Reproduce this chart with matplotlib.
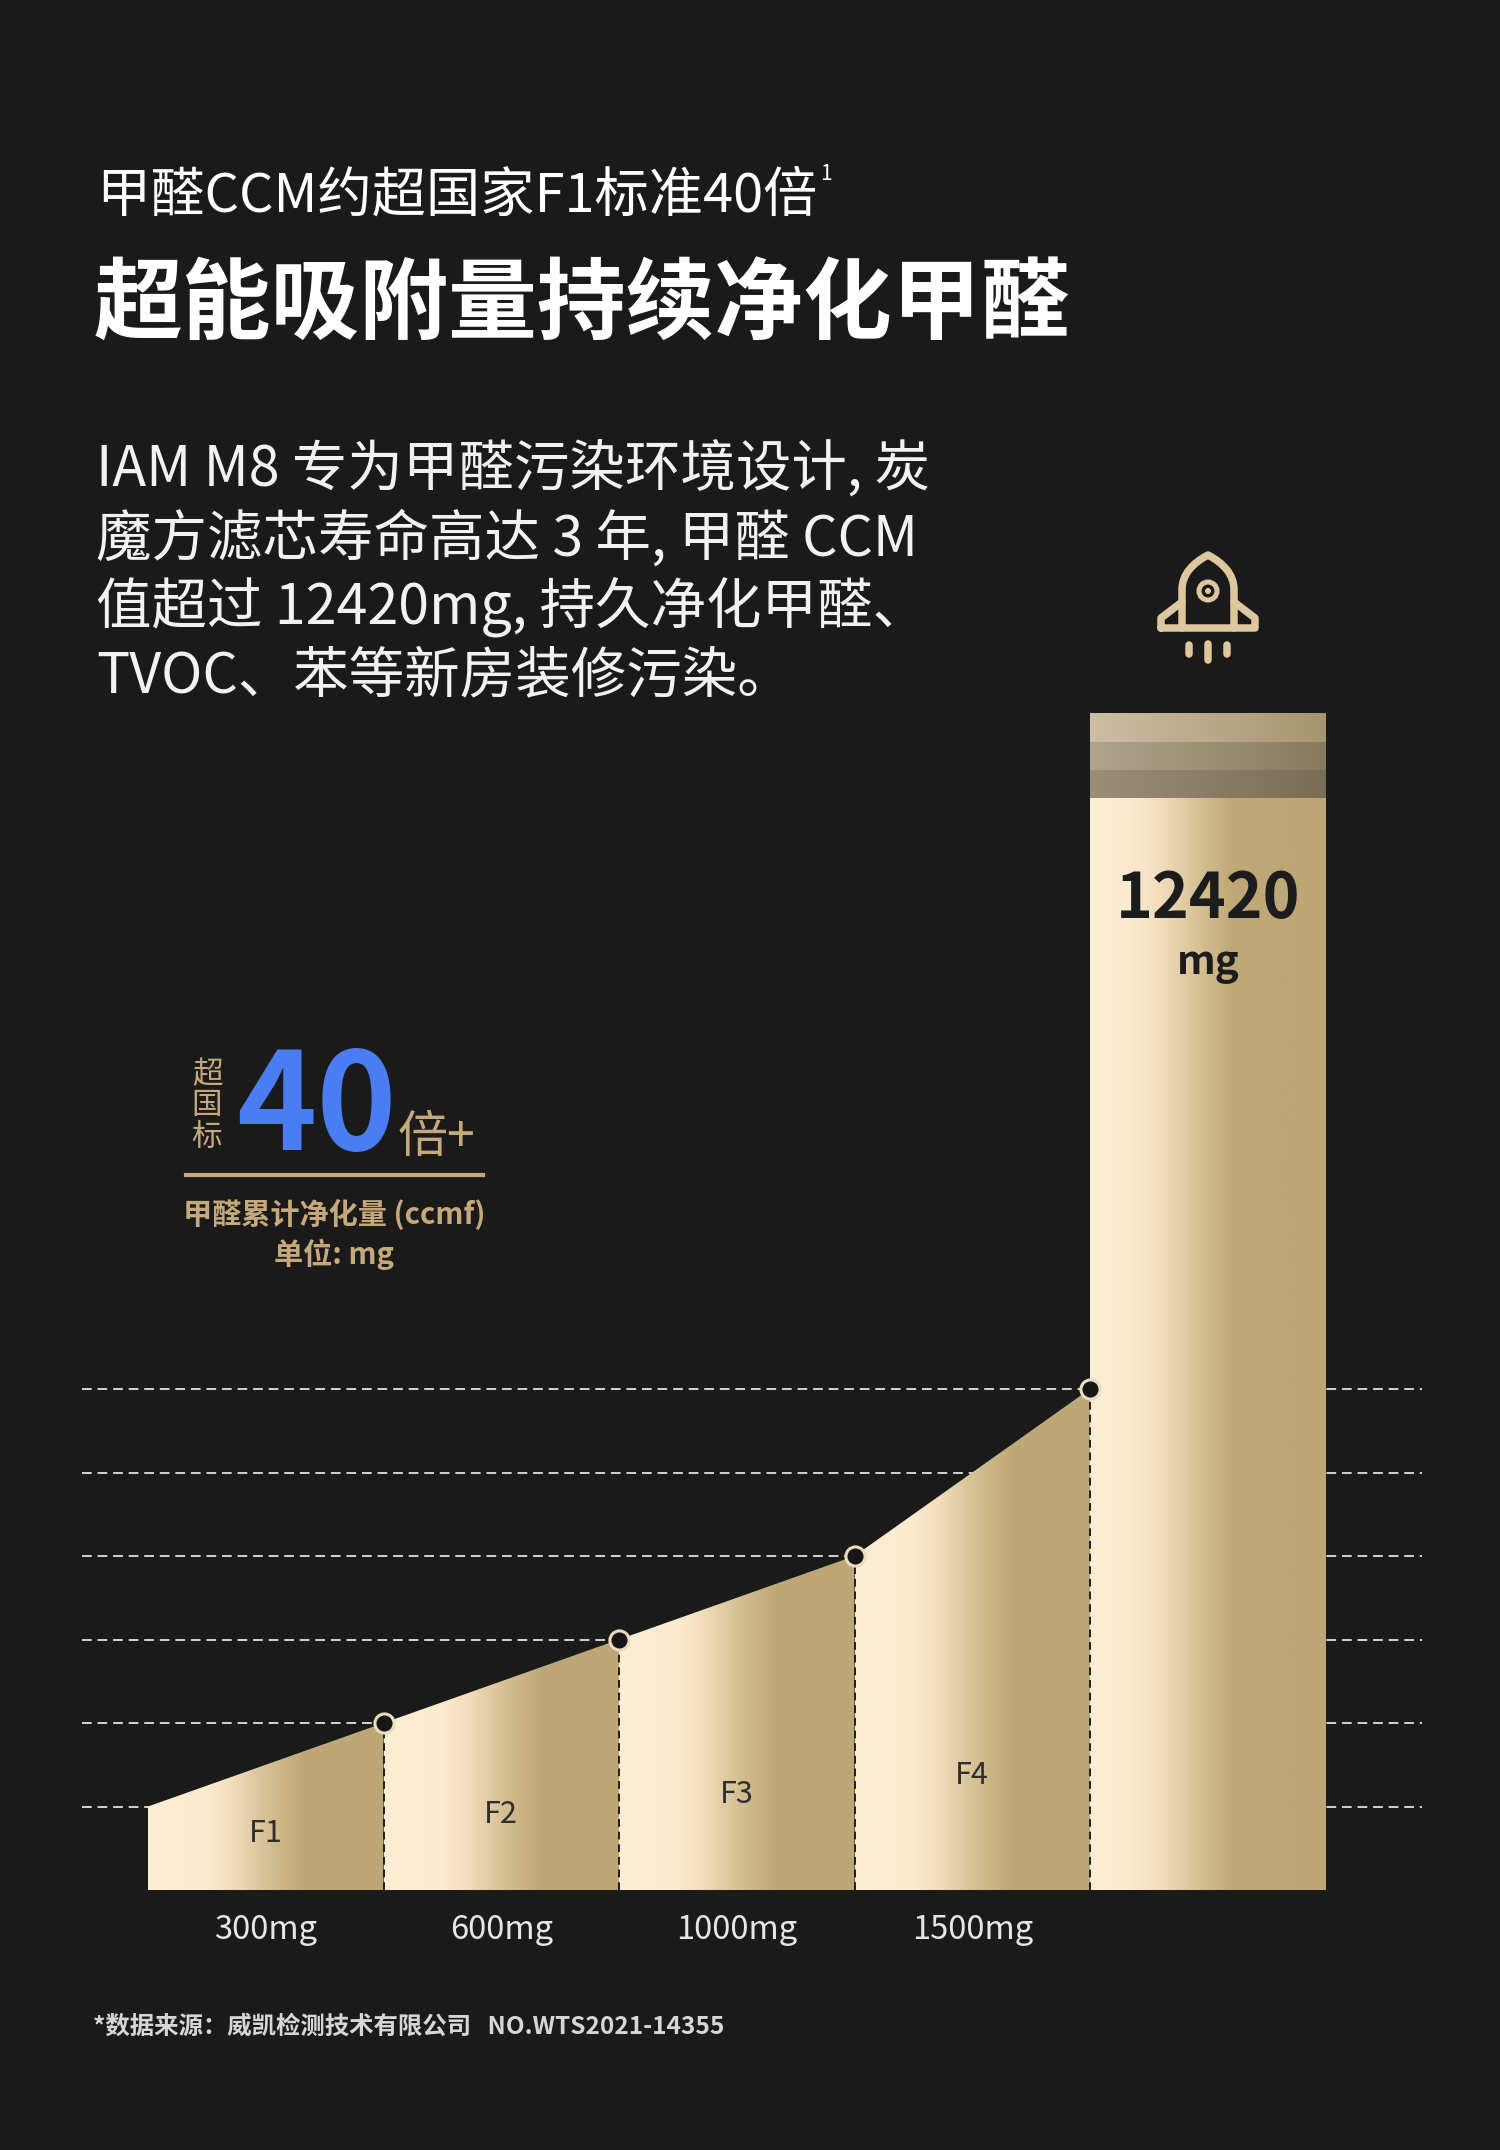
import numpy as np
import matplotlib
matplotlib.use("Agg")
import matplotlib.pyplot as plt
from matplotlib.colors import LinearSegmentedColormap
from matplotlib.patches import Polygon, Circle, PathPatch
from matplotlib.path import Path

plt.rcParams['font.family'] = ['Noto Sans CJK SC', 'DejaVu Sans']

# ---------------- data ----------------
categories = ['F1', 'F2', 'F3', 'F4']
value_labels = ['300mg', '600mg', '1000mg', '1500mg']
curve_levels = [1, 2, 3, 4, 6]          # curve height at segment boundaries (grid units)
bar_level = 14.1                         # height of the M8 bar (grid units)
bar_value = '12420'
bar_unit = 'mg'
grid_levels = [1, 2, 3, 4, 5, 6]

title_small = '甲醛CCM约超国家F1标准40倍'
title_note = '1'
title_big = '超能吸附量持续净化甲醛'
paragraph = ['IAM M8 专为甲醛污染环境设计, 炭',
             '魔方滤芯寿命高达 3 年, 甲醛 CCM',
             '值超过 12420mg, 持久净化甲醛、',
             'TVOC、苯等新房装修污染。']
badge_side = '超\n国\n标'
badge_num = '40'
badge_suffix = '倍+'
badge_caption = ['甲醛累计净化量 (ccmf)', '单位: mg']
footer = '*数据来源：威凯检测技术有限公司   NO.WTS2021-14355'

# ---------------- style ----------------
BG = '#1a1a1a'
TAN = '#c6a97b'
W, H = 1500, 2150

fig = plt.figure(figsize=(15, 21.5), dpi=100, facecolor=BG)
renderer = fig.canvas.get_renderer()


def fx(x):
    return x / W


def fy(y):
    return 1 - y / H


def fit_size(s, target, fs, **kw):
    t = fig.text(0, 0, s, fontsize=fs, **kw)
    w = t.get_window_extent(renderer).width
    t.remove()
    return fs * target / w


# ---------------- header texts ----------------
fs1 = fit_size(title_small, 721, 36)
fig.text(fx(96), fy(196), title_small, fontsize=fs1, color='white', va='center', ha='left')
fig.text(fx(820), fy(174), title_note, fontsize=15, color='white', va='center', ha='left')
fs2 = fit_size(title_big, 976, 64, fontweight='bold')
fig.text(fx(94), fy(306), title_big, fontsize=fs2, color='white', va='center', ha='left',
         fontweight='bold')

targets = [850, 834, 820, 655]
sizes = [fit_size(s, t, 38) for s, t in zip(paragraph, targets)]
fsp = float(np.median(sizes))
for k, line in enumerate(paragraph):
    fig.text(fx(96), fy(471 + 68.6 * k), line, fontsize=fsp, color='#f2f2f2',
             va='center', ha='left')

# ---------------- chart axes ----------------
x0_px, unit_x = 148, 235.5
y0_px, unit_y = 1890, 83.5
xl = ((82 - x0_px) / unit_x, (1422 - x0_px) / unit_x)
ax = fig.add_axes([fx(82), 1 - y0_px / H, (1422 - 82) / W, bar_level * unit_y / H])
ax.set_facecolor('none')
ax.axis('off')

ax.hlines(grid_levels, xl[0], xl[1], colors='#d4d4d4', linestyles=(0, (5, 3)),
          linewidth=1.4, zorder=1)

seg_cmap = LinearSegmentedColormap.from_list(
    'seg', [(0, '#feeed5'), (0.25, '#fdebd0'), (0.36, '#f3dcbc'), (0.5, '#d7c295'),
            (0.66, '#bfa878'), (1, '#bea777')])
bar_cmap = LinearSegmentedColormap.from_list(
    'bar', [(0, '#feeed6'), (0.16, '#fdebd0'), (0.3, '#f4ddbd'),
            (0.45, '#d8c397'), (0.6, '#c0a978'), (1, '#bda778')])
grad = np.linspace(0, 1, 256).reshape(1, -1)

n = len(categories)
for i in range(n):
    verts = [(i, 0), (i, curve_levels[i]), (i + 1, curve_levels[i + 1]), (i + 1, 0)]
    poly = Polygon(verts, closed=True, facecolor='none', edgecolor='none',
                   transform=ax.transData)
    ax.add_patch(poly)
    im = ax.imshow(grad, cmap=seg_cmap, extent=[i, i + 1, 0, max(curve_levels)],
                   aspect='auto', origin='lower', zorder=2, interpolation='bicubic')
    im.set_clip_path(poly)

# big bar
ax.imshow(grad, cmap=bar_cmap, extent=[n, n + 1, 0, bar_level], aspect='auto',
          origin='lower', zorder=2, interpolation='bicubic')
band_px = [(713, 742, '#cdbea4', '#a89570'),
           (742, 770, '#b0a48c', '#877a5e'),
           (770, 798, '#9a8e78', '#7a6d55')]
for top, bot, cl, cr in band_px:
    cm = LinearSegmentedColormap.from_list('b', [cl, cr])
    ax.imshow(grad, cmap=cm, extent=[n, n + 1, (y0_px - bot) / unit_y, (y0_px - top) / unit_y],
              aspect='auto', origin='lower', zorder=3, interpolation='bicubic')

# vertical dashed separators
xs = np.arange(1, n + 1)
ax.vlines(xs, 0, curve_levels[1:], colors='#1e1e1e', linestyles=(0, (4, 2.5)),
          linewidth=1.4, zorder=4)
ax.scatter(xs, curve_levels[1:], s=190, facecolor='#161616', edgecolor='#eadcbd',
           linewidths=2.2, zorder=6)

# labels
label_y = [0.68, 0.91, 1.14, 1.37]
for i, (c, v) in enumerate(zip(categories, value_labels)):
    ax.text(i + 0.5, label_y[i], c, fontsize=22, color='#2e2e2e', ha='center',
            va='center', zorder=7)
    ax.text(i + 0.5, -0.48, v, fontsize=23.5, color='#e6e6e6', ha='center',
            va='center', clip_on=False)
ax.text(n + 0.5, 11.86, bar_value, fontsize=45, fontweight='bold', color='#1c1c1c',
        ha='center', va='center', zorder=7)
ax.text(n + 0.5, 11.1, bar_unit, fontsize=29, fontweight='bold', color='#1c1c1c',
        ha='center', va='center', zorder=7)
ax.set_xlim(*xl)
ax.set_ylim(0, bar_level)

# ---------------- badge ----------------
fig.text(fx(207), fy(1106), badge_side, fontsize=22, color=TAN, ha='center', va='center',
         linespacing=1.0)
fig.text(fx(236), fy(1150), badge_num, fontsize=98, color='#4a7cf2', ha='left',
         va='baseline', fontweight='bold')
fig.text(fx(398), fy(1152), badge_suffix, fontsize=36, color=TAN, ha='left', va='baseline')
fig.add_artist(plt.Line2D([fx(186), fx(483)], [fy(1175), fy(1175)], color=TAN,
                          linewidth=3))
fig.text(fx(334), fy(1214), badge_caption[0], fontsize=21, color=TAN, ha='center',
         va='center', fontweight='bold')
fig.text(fx(334), fy(1254), badge_caption[1], fontsize=21, color=TAN, ha='center',
         va='center', fontweight='bold')

# ---------------- footer ----------------
fs_f = fit_size(footer, 633, 17, fontweight='bold')
fig.text(fx(93), fy(2027), footer, fontsize=fs_f, color='#d6d6d6', ha='left', va='center',
         fontweight='bold')

# ---------------- rocket icon ----------------
ov = fig.add_axes([0, 0, 1, 1], facecolor='none')
ov.set_xlim(0, W)
ov.set_ylim(H, 0)
ov.axis('off')
GOLD = '#dcc79f'
lw_px = 7.5 * 72 / 100
M, L, C = Path.MOVETO, Path.LINETO, Path.CURVE4
cx = 1208
verts = [(1161, 628), (1255, 628), (1255, 618), (1234, 602), (1234, 590),
         (1234, 574), (1223, 563), (cx, 555),
         (1193, 563), (1182, 574), (1182, 590),
         (1182, 602), (1161, 618), (1161, 628)]
codes = [M, L, L, L, L, C, C, C, C, C, C, L, L, L]
ov.add_patch(PathPatch(Path(verts, codes), facecolor='none', edgecolor=GOLD,
                       linewidth=lw_px, joinstyle='round', capstyle='round'))
ov.plot([1182, 1182], [602, 628], color=GOLD, lw=lw_px, solid_capstyle='round')
ov.plot([1234, 1234], [602, 628], color=GOLD, lw=lw_px, solid_capstyle='round')
ov.add_patch(Circle((cx, 591), 9, facecolor='none', edgecolor=GOLD, linewidth=5 * 0.72))
ov.add_patch(Circle((cx, 591), 3, facecolor=GOLD, edgecolor='none'))
ov.plot([cx, cx], [644, 660], color=GOLD, lw=lw_px, solid_capstyle='round')
ov.plot([1189, 1189], [645, 654], color=GOLD, lw=lw_px, solid_capstyle='round')
ov.plot([1227, 1227], [645, 654], color=GOLD, lw=lw_px, solid_capstyle='round')

fig.savefig('out.png', dpi=100, facecolor=BG)
